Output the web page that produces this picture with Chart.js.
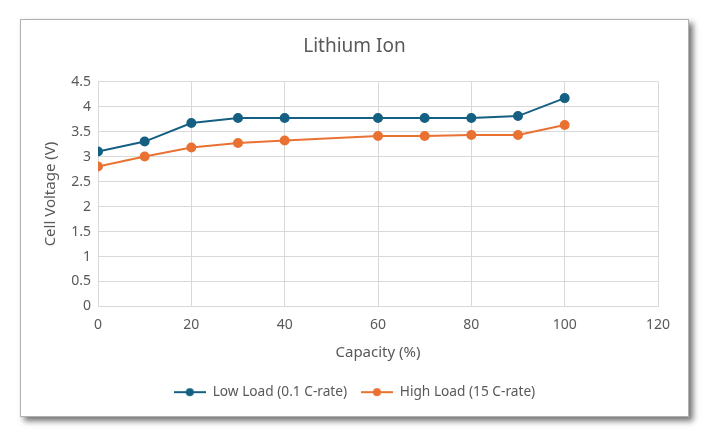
<!DOCTYPE html>
<html>
<head>
<meta charset="utf-8">
<script src="https://cdn.jsdelivr.net/npm/chart.js@4.4.1/dist/chart.umd.min.js"></script>
<style>
  html, body { margin: 0; padding: 0; background: #ffffff; }
  #card {
    position: absolute; left: 20px; top: 19px; width: 669px; height: 398px;
    background: #fff; border: 1px solid #b0b0b0; box-sizing: border-box;
    box-shadow: 4px 4px 6px rgba(0,0,0,0.55);
  }
  #card canvas { display: block; }
</style>
</head>
<body>
<div id="card"><canvas id="chart" width="667" height="396"></canvas></div>
<script>
// values
const capacity = [0, 10, 20, 30, 40, 60, 70, 80, 90, 100];
const lowLoad = [3.1, 3.3, 3.67, 3.77, 3.77, 3.77, 3.77, 3.77, 3.81, 4.17];
const highLoad = [2.8, 3.0, 3.18, 3.27, 3.32, 3.41, 3.41, 3.43, 3.43, 3.63];
const seriesNames = ["Low Load (0.1 C-rate)", "High Load (15 C-rate)"];
const seriesColors = ["#156082", "#E97132"];

const textColor = "#595959";
const gridColor = "#D9D9D9";
const fontFamily = "'Noto Sans', 'Open Sans', sans-serif";

// legend symbol: short line with a dot in the middle, like Excel
function legendSymbol(color) {
  const c = document.createElement("canvas");
  c.width = 32; c.height = 10;
  const g = c.getContext("2d");
  g.strokeStyle = color; g.lineWidth = 2;
  g.beginPath(); g.moveTo(0, 5); g.lineTo(32, 5); g.stroke();
  g.fillStyle = color;
  g.beginPath(); g.arc(16, 5, 4, 0, Math.PI * 2); g.fill();
  return c;
}

function toPoints(ys) {
  return capacity.map((x, i) => ({ x, y: ys[i] }));
}

const ctx = document.getElementById("chart").getContext("2d");

new Chart(ctx, {
  type: "line",
  data: {
    datasets: [lowLoad, highLoad].map((ys, i) => ({
      label: seriesNames[i],
      data: toPoints(ys),
      borderColor: seriesColors[i],
      backgroundColor: seriesColors[i],
      borderWidth: 2,
      pointRadius: 4,
      pointHoverRadius: 4,
      pointStyle: "circle",
      tension: 0,
    })),
  },
  options: {
    responsive: false,
    animation: false,
    layout: { padding: { left: 0, right: 0, top: 0, bottom: 7 } },
    plugins: {
      title: {
        display: true,
        text: "Lithium Ion",
        color: textColor,
        font: { family: fontFamily, size: 19, weight: "normal" },
        padding: { top: 15.5, bottom: 23.3 },
      },
      legend: {
        position: "bottom",
        labels: {
          color: textColor,
          font: { family: fontFamily, size: 13.7 },
          usePointStyle: true,
          pointStyleWidth: 32,
          padding: 13.8,
          generateLabels: (chart) =>
            chart.data.datasets.map((ds, i) => ({
              text: ds.label,
              fontColor: textColor,
              pointStyle: legendSymbol(seriesColors[i]),
              strokeStyle: seriesColors[i],
              fillStyle: seriesColors[i],
              lineWidth: 0,
              datasetIndex: i,
            })),
        },
      },
      tooltip: { enabled: false },
    },
    scales: {
      x: {
        type: "linear",
        min: 0,
        max: 120,
        ticks: {
          stepSize: 20,
          color: textColor,
          font: { family: fontFamily, size: 14 },
          padding: 10,
        },
        grid: { color: gridColor, drawTicks: false },
        border: { color: gridColor },
        title: {
          display: true,
          text: "Capacity (%)",
          color: textColor,
          font: { family: fontFamily, size: 15 },
          padding: { top: 8, bottom: 10 },
        },
        afterFit: (scale) => { scale.height = 65; },
      },
      y: {
        min: 0,
        max: 4.5,
        ticks: {
          stepSize: 0.5,
          color: textColor,
          font: { family: fontFamily, size: 14 },
          padding: 7,
          callback: (v) => String(v),
        },
        grid: { color: gridColor, drawTicks: false },
        border: { color: gridColor },
        title: {
          display: true,
          text: "Cell Voltage (V)",
          color: textColor,
          font: { family: fontFamily, size: 15 },
          padding: { top: 21, bottom: 8 },
        },
        afterFit: (scale) => { scale.width = 77; },
      },
      // empty axis on the right, only to keep the right margin
      // so the title and legend stay centred on the card
      spacer: {
        type: "linear",
        position: "right",
        display: true,
        ticks: { display: false },
        grid: { display: false, drawTicks: false },
        border: { display: false },
        afterFit: (scale) => { scale.width = 30; },
      },
    },
  },
});
</script>
</body>
</html>
